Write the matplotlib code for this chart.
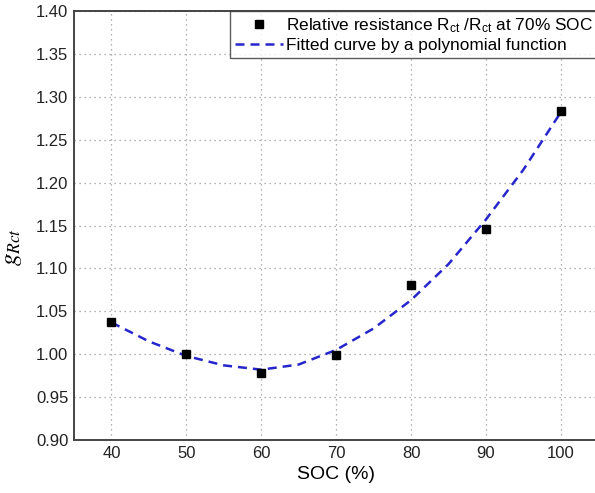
import numpy as np
import matplotlib.pyplot as plt

plt.rcParams['font.family'] = ['Liberation Sans', 'DejaVu Sans']
plt.rcParams['mathtext.fontset'] = 'custom'
plt.rcParams['mathtext.rm'] = 'Liberation Sans'
plt.rcParams['mathtext.it'] = 'Liberation Sans:italic'

# measured relative resistance
soc = [40, 50, 60, 70, 80, 90, 100]
g_rct = [1.038, 1.000, 0.978, 0.999, 1.081, 1.146, 1.284]

# fitted polynomial curve
soc_fit = [40, 45, 50, 55, 60, 65, 70, 75, 80, 85, 90, 95, 100]
g_fit = [1.037, 1.015, 0.998, 0.987, 0.982, 0.988, 1.005, 1.030, 1.063,
         1.105, 1.157, 1.215, 1.282]

xticks = [40, 50, 60, 70, 80, 90, 100]
yticks = np.arange(0.90, 1.401, 0.05)

fig = plt.figure(figsize=(5.95, 4.93), dpi=100)
ax = fig.add_axes([0.1244, 0.1075, 0.881, 0.870])

ax.plot(soc_fit, g_fit, linestyle=(0, (3.6, 2.4)), color='#2626cc', lw=1.8,
        label='Fitted curve by a polynomial function', zorder=2)
ax.plot(soc, g_rct, 's', color='black', markersize=6, linestyle='none',
        label=r'Relative resistance R$_{\mathregular{ct}}$ /R$_{\mathregular{ct}}$ at 70% SOC',
        zorder=3)

ax.set_xlim(35, 105)
ax.set_ylim(0.90, 1.40)
ax.set_xticks(xticks)
ax.set_yticks(yticks)
ax.set_yticklabels(['%.2f' % v for v in yticks])
ax.tick_params(labelsize=12, length=0, pad=4, colors='#333333', labelcolor='#222222')
ax.grid(True, linestyle=(0, (1, 3)), color='#999999', lw=0.9)
for s in ax.spines.values():
    s.set_color('#444444')
    s.set_linewidth(1.4)

ax.set_xlabel('SOC (%)', fontsize=14, labelpad=4)
ax.set_ylabel(r'$g_{Rct}$', fontsize=18, math_fontfamily='stix', labelpad=6)
ax.yaxis.set_label_coords(-0.095, 0.45)

h, l = ax.get_legend_handles_labels()
leg = ax.legend(h[::-1], l[::-1], loc='upper right', fontsize=12.4, frameon=True,
                fancybox=False, edgecolor='#333333', borderaxespad=0,
                handlelength=2.8, handletextpad=0.15, borderpad=0.3,
                labelspacing=0.15)
leg.get_frame().set_linewidth(1.0)

fig.savefig('out.png', dpi=100)
